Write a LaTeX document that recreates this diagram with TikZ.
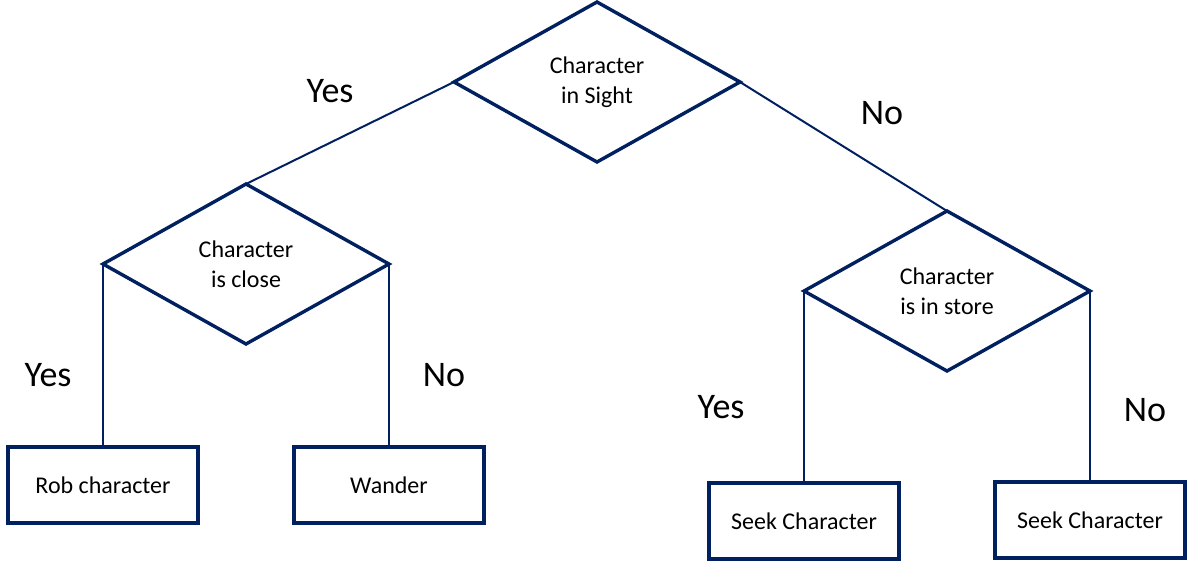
\documentclass[tikz,border=0pt]{standalone}
\usepackage{fontspec}
\setmainfont{Carlito}
\usetikzlibrary{shapes.geometric}
\definecolor{navy}{HTML}{002060}
\tikzset{
  decision/.style={diamond, draw=navy, line width=3.4pt, inner sep=0pt, outer sep=0pt,
    minimum width=286pt, minimum height=160pt, align=center,
    font=\fontsize{24}{30}\selectfont},
  action/.style={rectangle, draw=navy, line width=3.4pt, inner sep=0pt, outer sep=0pt,
    minimum width=190pt, minimum height=76pt, font=\fontsize{24}{30}\selectfont},
  diag/.style={draw=navy, line width=2pt},
  vert/.style={draw=navy, line width=2.8pt},
  answer/.style={font=\fontsize{36}{40}\selectfont, inner sep=0pt}
}
\begin{document}
\begin{tikzpicture}[x=1pt,y=-1pt]
\useasboundingbox (0,0) rectangle (1201,562);
\node[decision] (top) at (597,82) {Character\\in Sight};
\node[decision] (close) at (246,264) {Character\\is close};
\node[decision] (store) at (947,291) {Character\\is in store};
\node[action] (rob) at (103,485) {Rob character};
\node[action] (wander) at (389,485) {Wander};
\node[action] (seek1) at (804,521) {Seek Character};
\node[action] (seek2) at (1090,520) {Seek Character};
\draw[diag] (top.west) -- (close.north);
\draw[diag] (top.east) -- (store.north);
\draw[vert] (close.west) -- (rob.north);
\draw[vert] (close.east) -- (wander.north);
\draw[vert] (store.west) -- (seek1.north);
\draw[vert] (store.east) -- (seek2.north);
\node[answer] (y1) at (330,91) {Yes};
\node[answer] (n1) at (882,113) {No};
\node[answer] (y2) at (48,375) {Yes};
\node[answer] (n2) at (444,375) {No};
\node[answer] (y3) at (721,407) {Yes};
\node[answer] (n3) at (1145,410) {No};
\end{tikzpicture}
\end{document}
